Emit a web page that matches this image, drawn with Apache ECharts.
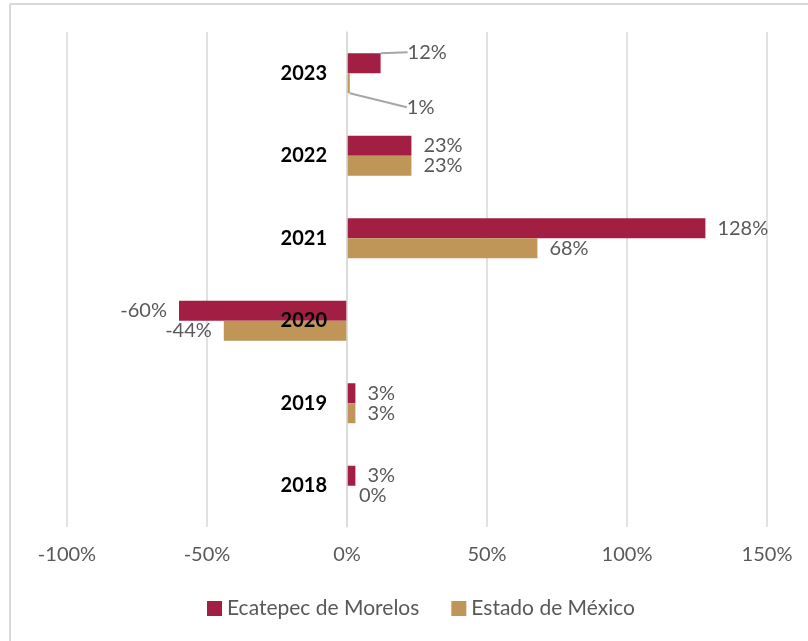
<!DOCTYPE html>
<html>
<head>
<meta charset="utf-8">
<script src="https://cdn.jsdelivr.net/npm/echarts@6/dist/echarts.min.js"></script>
<style>html,body{margin:0;padding:0;background:#fff}#c{width:808px;height:641px}</style>
</head>
<body>
<div id="c"></div>
<script>
const years = ['2018', '2019', '2020', '2021', '2022', '2023'];
const ecatepec = [3, 3, -60, 128, 23, 12];
const estado = [0, 3, -44, 68, 23, 1];
const seriesNames = ['Ecatepec de Morelos', 'Estado de México'];
const xTicks = { min: -100, max: 150, interval: 50 };

const FONT = 'Lato';
const labelColor = '#595959';
const chart = echarts.init(document.getElementById('c'));

function barLabel(params) {
  return params.value + '%';
}
function makeData(arr) {
  return arr.map((v, i) => ({
    value: v,
    label: { position: v < 0 ? 'left' : 'right' },
    labelLine: { show: i === arr.length - 1 }
  }));
}

chart.setOption({
  animation: false,
  textStyle: { fontFamily: FONT },
  graphic: [
    { type: 'line', shape: { x1: 10, y1: 4, x2: 808, y2: 4 }, style: { stroke: '#D9D9D9', lineWidth: 2 } },
    { type: 'line', shape: { x1: 10, y1: 4, x2: 10, y2: 641 }, style: { stroke: '#D9D9D9', lineWidth: 2 } }
  ],
  grid: { left: 67, right: 41, top: 32, bottom: 114, containLabel: false },
  legend: {
    data: seriesNames,
    left: 202,
    top: 593,
    icon: 'rect',
    itemWidth: 15,
    itemHeight: 15,
    itemGap: 32,
    textStyle: { fontSize: 21, color: labelColor, fontFamily: FONT }
  },
  xAxis: {
    type: 'value',
    min: xTicks.min,
    max: xTicks.max,
    interval: xTicks.interval,
    axisLine: { show: false },
    axisTick: { show: false },
    splitLine: { show: true, lineStyle: { color: '#D9D9D9', width: 1.5 } },
    axisLabel: { formatter: '{value}%', fontSize: 20, color: labelColor, margin: 18, fontFamily: FONT }
  },
  yAxis: {
    type: 'category',
    data: years,
    z: 10,
    offset: -280,
    axisLine: { show: true, onZero: false, lineStyle: { color: '#D9D9D9', width: 1.5 } },
    axisTick: { show: false },
    axisLabel: { fontSize: 20, fontWeight: 'bold', color: '#000', margin: 20, fontFamily: FONT }
  },
  series: [
    {
      name: seriesNames[0],
      type: 'bar',
      data: makeData(ecatepec),
      barWidth: 20,
      barGap: '0%',
      itemStyle: { color: '#A21F43' },
      label: { show: true, formatter: barLabel, fontSize: 20, color: labelColor, distance: 12, fontFamily: FONT },
      labelLine: { show: false, lineStyle: { color: '#A6A6A6', width: 2 } },
      labelLayout: function (p) {
        if (p.dataIndex === 5) return { dx: 15, dy: -11 };
        return {};
      }
    },
    {
      name: seriesNames[1],
      type: 'bar',
      data: makeData(estado),
      barWidth: 20,
      barGap: '0%',
      itemStyle: { color: '#BF9558' },
      label: { show: true, formatter: barLabel, fontSize: 20, color: labelColor, distance: 12, fontFamily: FONT },
      labelLine: { show: false, lineStyle: { color: '#A6A6A6', width: 2 } },
      labelLayout: function (p) {
        if (p.dataIndex === 5) return { dx: 45, dy: 24 };
        return {};
      }
    }
  ]
});
</script>
</body>
</html>
